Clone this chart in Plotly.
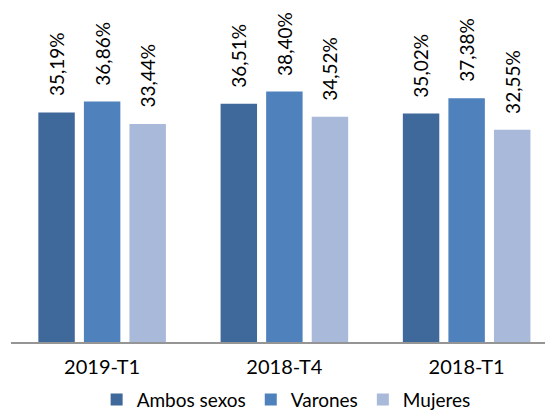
import plotly.graph_objects as go

categories = ["2019-T1", "2018-T4", "2018-T1"]
series_names = ["Ambos sexos", "Varones", "Mujeres"]
ambos = [35.19, 36.51, 35.02]
varones = [36.86, 38.40, 37.38]
mujeres = [33.44, 34.52, 32.55]
colors = ["#40699B", "#4F81BD", "#A9B9D9"]

values = [ambos, varones, mujeres]
x_idx = list(range(len(categories)))

FONT = "Lato"
fig = go.Figure()
for name, vals, col in zip(series_names, values, colors):
    fig.add_trace(go.Bar(x=x_idx, y=vals, name=name, marker=dict(color=col, line=dict(width=0))))

slot = 0.25
for k, vals in enumerate(values):
    for i, v in enumerate(vals):
        fig.add_annotation(
            x=i + (k - 1) * slot, y=v, text=f"{v:.2f}%".replace(".", ","),
            textangle=-90, showarrow=False, yanchor="bottom", xanchor="center",
            yshift=14, font=dict(family=FONT, size=19, color="#000000"))

fig.update_layout(
    width=545, height=410,
    margin=dict(l=11, r=0, t=10, b=68, autoexpand=False),
    plot_bgcolor="white", paper_bgcolor="white",
    barmode="group", bargap=0.25, bargroupgap=0.2,
    showlegend=True,
    legend=dict(orientation="h", x=0.525, xanchor="center", xref="container",
                y=0.025, yanchor="middle", yref="container",
                font=dict(family=FONT, size=19, color="#000000"),
                tracegroupgap=0),
    xaxis=dict(range=[-0.5, 2.43], tickmode="array", tickvals=x_idx, ticktext=categories,
               showline=True, linecolor="#959595", linewidth=2, showgrid=False, ticks="",
               ticklabelstandoff=6,
               tickfont=dict(family=FONT, size=20, color="#000000")),
    yaxis=dict(range=[0, 50.9], visible=False, showgrid=False, zeroline=False),
)
fig.write_html("out.html", config={"displayModeBar": False},
               post_script="document.body.style.margin='0';")
